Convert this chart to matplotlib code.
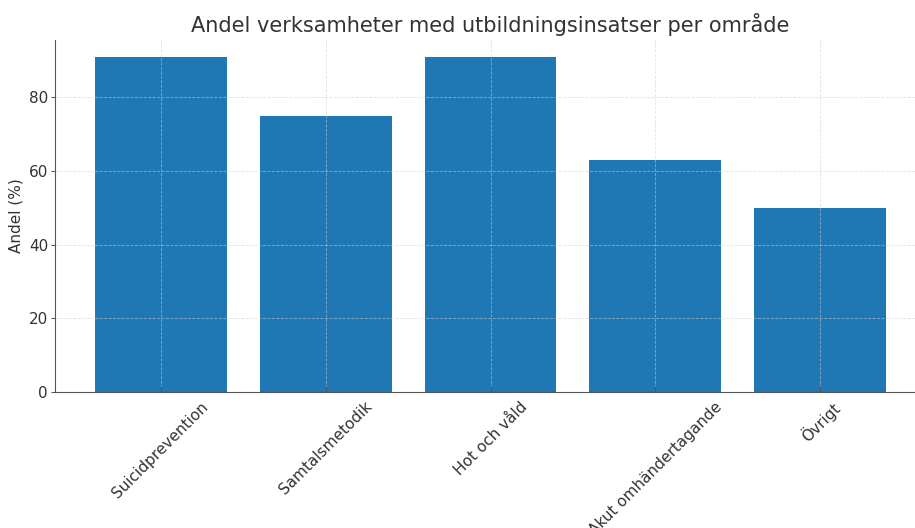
import matplotlib
matplotlib.use("Agg")
import matplotlib.pyplot as plt

categories = ["Suicidprevention", "Samtalsmetodik", "Hot och våld", "Akut omhändertagande", "Övrigt"]
values = [91, 75, 91, 63, 50]

title = "Andel verksamheter med utbildningsinsatser per område"
ylabel = "Andel (%)"
yticks = [0, 20, 40, 60, 80]

W, H = 915, 528
fig = plt.figure(figsize=(W / 100, H / 100), dpi=100)
ax = fig.add_axes([55 / W, 136 / H, 871 / W, 352 / H])

text_color = "#333333"
spine_color = "#555555"
ax.bar(range(len(categories)), values, width=0.8, color="#1f77b4", zorder=1)
ax.set_xlim(-0.64, 4.64)
ax.set_ylim(0, 95.5)
ax.set_yticks(yticks)
ax.set_xticks(range(len(categories)))
ax.set_xticklabels(categories, rotation=45, ha="center", fontsize=11, color=text_color)
ax.tick_params(axis="y", labelsize=11, labelcolor=text_color, direction="out",
               length=3, color=spine_color, pad=2)
ax.tick_params(axis="x", direction="in", length=4, color=spine_color, pad=5)
ax.grid(True, linestyle="--", color="#d0d0d0", linewidth=0.6, alpha=0.6, zorder=2)
ax.set_axisbelow(False)
for s in ["top", "right"]:
    ax.spines[s].set_visible(False)
for s in ["left", "bottom"]:
    ax.spines[s].set_color(spine_color)
ax.set_title(title, fontsize=15, color=text_color, pad=6)
ax.set_ylabel(ylabel, fontsize=11, color=text_color, labelpad=4)

fig.savefig("out.png", dpi=100)
